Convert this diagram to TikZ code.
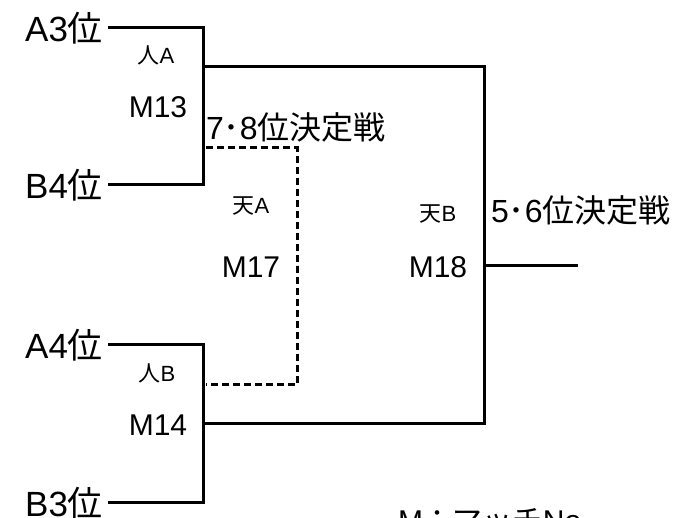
\documentclass[tikz,border=0pt]{standalone}
\usepackage{fontspec}
\setmainfont{Liberation Sans}
\newfontfamily\jp{Noto Sans CJK JP}
\usepackage{xcolor}
\usepackage{tikz}

\begin{document}
\begin{tikzpicture}[x=1pt,y=1pt,
  seed/.style={text=drawColor,anchor=east,inner sep=0pt,outer xsep=5pt,outer ysep=0pt,font=\fontsize{35}{35}\selectfont},
  block/.style={text=drawColor,inner sep=0pt,outer sep=0pt,font=\fontsize{22}{22}\selectfont},
  match/.style={text=drawColor,inner sep=0pt,outer sep=0pt,font=\fontsize{30}{30}\selectfont},
  place/.style={text=drawColor,anchor=west,inner sep=0pt,outer sep=0pt,font=\fontsize{32}{32}\selectfont},
  bracket/.style={draw=drawColor,line width=3pt},
  loser/.style={draw=drawColor,line width=3pt,dash pattern=on 7pt off 4pt}]
\definecolor{fillColor}{RGB}{255,255,255}
\definecolor{drawColor}{RGB}{0,0,0}
\path[use as bounding box,fill=fillColor] (0,0) rectangle (683,518);

% seeds
\node[seed] (seedA3) at (108,490) {A3{\jp 位}};
\node[seed] (seedB4) at (108,333) {B4{\jp 位}};
\node[seed] (seedA4) at (108,173) {A4{\jp 位}};
\node[seed] (seedB3) at (108, 15) {B3{\jp 位}};

% bracket points
\coordinate (r13) at (203,451);
\coordinate (r14) at (203, 94);
\coordinate (r18) at (484,252);
\coordinate (out18) at (578,252);
\coordinate (l13) at (206,370);
\coordinate (l14) at (206,133);
\coordinate (r17) at (297,252);

\path[bracket] (seedA3.east) -| (r13) |- (seedB4.east);
\path[bracket] (seedA4.east) -| (r14) |- (seedB3.east);
\path[bracket] (r13) -| (r18) |- (r14);
\path[bracket] (r18) -- (out18);
\path[loser] (l13) -| (r17) |- (l14);

% match labels
\node[block] (blkA) at (156,463) {{\jp 人}A};
\node[match] (m13) at (158,411) {M13};
\node[block] (blkB) at (157,145) {{\jp 人}B};
\node[match] (m14) at (158, 93) {M14};
\node[block] (tenA) at (251,312) {{\jp 天}A};
\node[match] (m17) at (251,251) {M17};
\node[block] (tenB) at (438,304) {{\jp 天}B};
\node[match] (m18) at (438,251) {M18};

\node[place] (p78) at (206,391) {7{\jp ･}8{\jp 位決定戦}};
\node[place] (p56) at (491,308) {5{\jp ･}6{\jp 位決定戦}};

\node[match,anchor=north west] (legend) at (398,10) {M{\jp ：マッチ}No};
\end{tikzpicture}
\end{document}
